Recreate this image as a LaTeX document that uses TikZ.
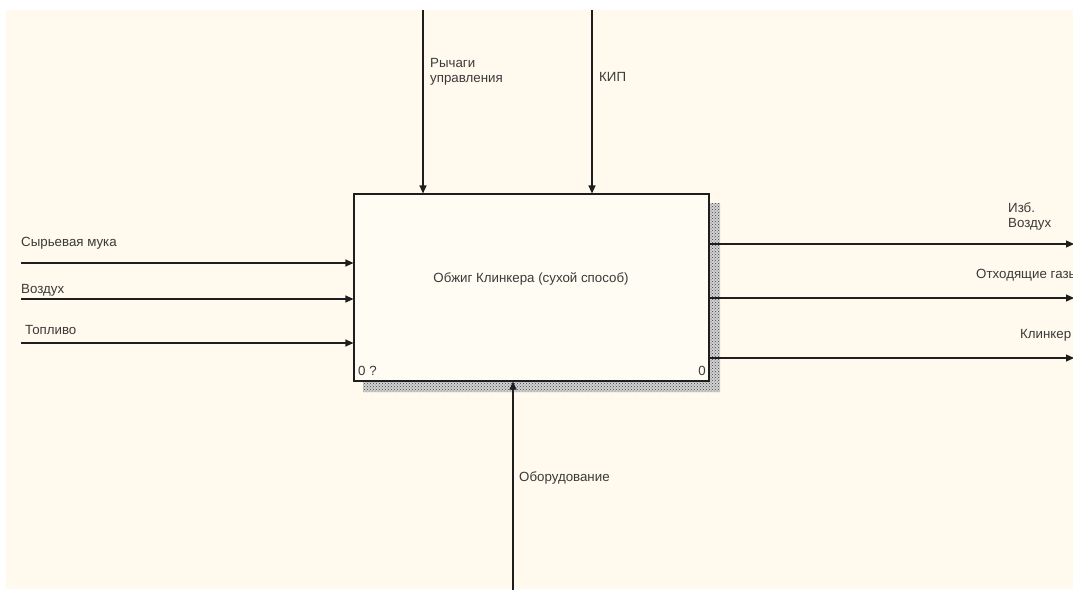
\documentclass[tikz,border=0pt]{standalone}
\usepackage{fontspec}
\setmainfont{Liberation Sans}
\usetikzlibrary{arrows.meta,patterns}
\definecolor{bgcream}{HTML}{FFF9EE}
\definecolor{boxcream}{HTML}{FFFCF4}
\definecolor{txt}{HTML}{3A3A3A}
\definecolor{ln}{HTML}{1E1E1E}
\tikzset{
  lbl/.style={font=\fontsize{13.3}{15}\selectfont, text=txt, inner sep=0pt, align=left},
  arr/.style={draw=ln, line width=1.1pt, -{Triangle[length=8pt,width=7pt]}},
  func/.style={draw=ln, line width=1.1pt, fill=boxcream, minimum width=355pt, minimum height=187pt, inner sep=0pt},
  shadowbase/.style={fill=gray!35},
  shadowfill/.style={pattern=crosshatch dots, pattern color=black!75}
}
\begin{document}
\begin{tikzpicture}[x=1pt,y=-1pt]
\useasboundingbox (0,0) rectangle (1073,589);
\fill[white] (0,0) rectangle (1073,589);
\fill[bgcream] (6,10) rectangle (1073,589);
% shadow
\fill[shadowbase] (709,203) -- (720,203) -- (720,392) -- (363,392) -- (363,381) -- (709,381) -- cycle;
\fill[shadowfill] (709,203) -- (720,203) -- (720,392) -- (363,392) -- (363,381) -- (709,381) -- cycle;
% function box
\node[func] (box) at (531.5,287.5) {};
\node[lbl] (title) at (531,279) {Обжиг Клинкера (сухой способ)};
\node[lbl, anchor=west] (num1) at (358,371) {0 ?};
\node[lbl, anchor=east] (num2) at (706,371) {0};
% free ends
\coordinate (c1s) at (423,10);
\coordinate (c2s) at (592,10);
\coordinate (i1s) at (21,263);
\coordinate (i2s) at (21,299);
\coordinate (i3s) at (21,343);
\coordinate (o1e) at (1074,244);
\coordinate (o2e) at (1074,298);
\coordinate (o3e) at (1074,358);
\coordinate (m1s) at (513,590);
% controls
\draw[arr] (c1s) -- (c1s |- box.north);
\draw[arr] (c2s) -- (c2s |- box.north);
% inputs
\draw[arr] (i1s) -- (i1s -| box.west);
\draw[arr] (i2s) -- (i2s -| box.west);
\draw[arr] (i3s) -- (i3s -| box.west);
% outputs
\draw[arr] (o1e -| box.east) -- (o1e);
\draw[arr] (o2e -| box.east) -- (o2e);
\draw[arr] (o3e -| box.east) -- (o3e);
% mechanism
\draw[arr] (m1s) -- (m1s |- box.south);
% labels
\node[lbl, anchor=north west] (lc1) at (430,58) {Рычаги\\управления};
\node[lbl, anchor=west] (lc2) at (599,77) {КИП};
\node[lbl, anchor=west] (li1) at (21,243) {Сырьевая мука};
\node[lbl, anchor=west] (li2) at (21,290) {Воздух};
\node[lbl, anchor=west] (li3) at (25,330) {Топливо};
\node[lbl, anchor=north west] (lo1) at (1008,203) {Изб.\\Воздух};
\node[lbl, anchor=west] (lo2) at (976,275) {Отходящие газы};
\node[lbl, anchor=west] (lo3) at (1020,335) {Клинкер};
\node[lbl, anchor=west] (lm1) at (519,478) {Оборудование};
\end{tikzpicture}
\end{document}
